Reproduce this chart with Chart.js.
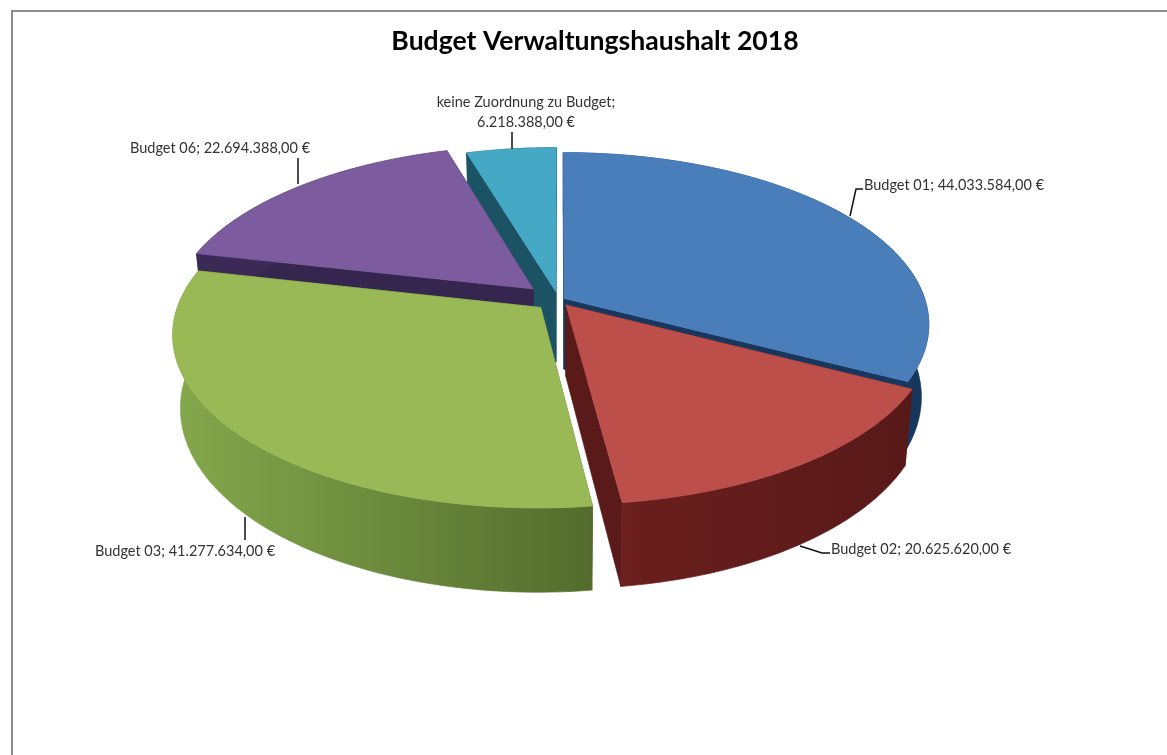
<!DOCTYPE html>
<html>
<head>
<meta charset="utf-8">
<title>Budget Verwaltungshaushalt 2018</title>
<script src="https://cdn.jsdelivr.net/npm/chart.js@4"></script>
<style>
html, body { margin: 0; padding: 0; background: #fff; overflow: hidden; height: 755px; }
#box { position: absolute; left: 11px; top: 10px; width: 1170px; height: 760px; border-left: 2px solid #8c8c8c; border-top: 2px solid #8c8c8c; overflow: hidden; }
canvas { display: block; }
</style>
</head>
<body>
<div id="box"><canvas id="myChart" width="1164" height="760"></canvas></div>
<script>
var categories = ["Budget 01", "Budget 02", "Budget 03", "Budget 06", "keine Zuordnung zu Budget"];
var values = [44033584, 20625620, 41277634, 22694388, 6218388];

var topColors = ["#4a7ebb", "#bd4f4b", "#98b955", "#7c5c9e", "#45a9c5"];
var wallLeft = ["#1c4474", "#6b1f1e", "#84a84c", "#3a2a55", "#1b5364"];
var wallRight = ["#16365c", "#571918", "#536c2d", "#3a2a55", "#1b5364"];
var faceColors = ["#17375e", "#5a1a1a", "#5c7732", "#35264f", "#1b5364"];
var explode = [1.8, 3.6, 6.6, 9.7, 5];

// label box left, text middle y, leader line points (canvas coordinates)
var labelSpots = [
    { x: 851, y: 173, line: [[837, 204], [843, 177], [850, 177]] },
    { x: 818, y: 537, line: [[787, 534], [809, 541], [817, 541]] },
    { x: 82, y: 539, line: [[232, 505], [232, 528]] },
    { x: 117, y: 136, line: [[285, 146], [285, 172]] },
    { x: 513, y: 90, center: true, line: [[499, 120], [499, 137]] }
];

var RX = 361, RY = 168, TILT = 0.15, DEPTH = 71, SHIFT_X = -36.5, BASE_SHRINK = 0.98;

function euro(v) {
    return v.toLocaleString("de-DE", { minimumFractionDigits: 2, maximumFractionDigits: 2 }) + "\u00a0€";
}

function project(arc, u, v) {
    var s = 1 / (1 - TILT * v);
    var cx = arc.x + SHIFT_X;
    var x = cx + RX * u * s;
    return { x: x, y: arc.y + RY * v * s, bx: cx + (x - cx) * BASE_SHRINK, d: DEPTH * s };
}

function rimPoints(arc, d) {
    var a0 = arc.startAngle, a1 = arc.endAngle, mid = (a0 + a1) / 2;
    var ou = Math.cos(mid) * d, ov = Math.sin(mid) * d;
    var pts = [];
    var n = 80;
    for (var i = 0; i <= n; i++) {
        var a = a0 + (a1 - a0) * i / n;
        pts.push(project(arc, ou + Math.cos(a), ov + Math.sin(a)));
    }
    return { apex: project(arc, ou, ov), rim: pts };
}

function paint(ctx, fill) {
    ctx.closePath();
    ctx.fillStyle = fill;
    ctx.strokeStyle = fill;
    ctx.lineWidth = 0.7;
    ctx.fill();
    ctx.stroke();
}

function quad(ctx, p, q, fill) {
    ctx.beginPath();
    ctx.moveTo(p.x, p.y);
    ctx.lineTo(q.x, q.y);
    ctx.lineTo(q.bx, q.y + q.d);
    ctx.lineTo(p.bx, p.y + p.d);
    paint(ctx, fill);
}

var pie3d = {
    id: "pie3d",
    beforeDatasetsDraw: function (chart) {
        var ctx = chart.ctx;
        var arcs = chart.getDatasetMeta(0).data.map(function (arc, i) {
            return { arc: arc, i: i, mid: (arc.startAngle + arc.endAngle) / 2 };
        });
        arcs.sort(function (a, b) { return Math.sin(a.mid) - Math.sin(b.mid); });
        arcs.forEach(function (o) {
            var i = o.i;
            var g = rimPoints(o.arc, o.arc.options.offset / 100);
            var rim = g.rim, last = rim[rim.length - 1];
            quad(ctx, g.apex, rim[0], faceColors[i]);
            quad(ctx, g.apex, last, faceColors[i]);

            var xs = rim.map(function (p) { return p.x; });
            var grad = ctx.createLinearGradient(Math.min.apply(null, xs), 0, Math.max.apply(null, xs), 0);
            grad.addColorStop(0, wallLeft[i]);
            grad.addColorStop(1, wallRight[i]);
            ctx.beginPath();
            rim.forEach(function (p, k) { if (k) ctx.lineTo(p.x, p.y); else ctx.moveTo(p.x, p.y); });
            for (var k = rim.length - 1; k >= 0; k--) ctx.lineTo(rim[k].bx, rim[k].y + rim[k].d);
            paint(ctx, grad);

            ctx.beginPath();
            ctx.moveTo(g.apex.x, g.apex.y);
            rim.forEach(function (p) { ctx.lineTo(p.x, p.y); });
            paint(ctx, o.arc.options.backgroundColor);
        });
        return false;
    },
    afterDraw: function (chart) {
        var ctx = chart.ctx;
        ctx.save();
        ctx.font = "14.5px Lato";
        ctx.fillStyle = "#333";
        ctx.textBaseline = "middle";
        labelSpots.forEach(function (spot, i) {
            ctx.beginPath();
            spot.line.forEach(function (p, k) { if (k) ctx.lineTo(p[0], p[1]); else ctx.moveTo(p[0], p[1]); });
            ctx.strokeStyle = "#111";
            ctx.lineWidth = 1.5;
            ctx.stroke();
            if (spot.center) {
                ctx.textAlign = "center";
                ctx.fillText(categories[i] + ";", spot.x, spot.y);
                ctx.fillText(euro(values[i]), spot.x, spot.y + 20);
            } else {
                ctx.textAlign = "left";
                ctx.fillText(categories[i] + "; " + euro(values[i]), spot.x, spot.y);
            }
        });
        ctx.restore();
    }
};

window.onload = function () {
    var ctx = document.getElementById("myChart").getContext("2d");
    new Chart(ctx, {
        type: "pie",
        data: {
            labels: categories,
            datasets: [{
                data: values,
                backgroundColor: topColors,
                offset: explode,
                borderWidth: 0
            }]
        },
        options: {
            responsive: false,
            animation: false,
            layout: { padding: { bottom: 240 } },
            plugins: {
                legend: { display: false },
                tooltip: { enabled: false },
                title: {
                    display: true,
                    text: "Budget Verwaltungshaushalt 2018",
                    color: "#000",
                    font: { family: "Lato", size: 26.6, weight: "bold" },
                    padding: { top: 13, bottom: 11 }
                }
            }
        },
        plugins: [pie3d]
    });
};
</script>
</body>
</html>
